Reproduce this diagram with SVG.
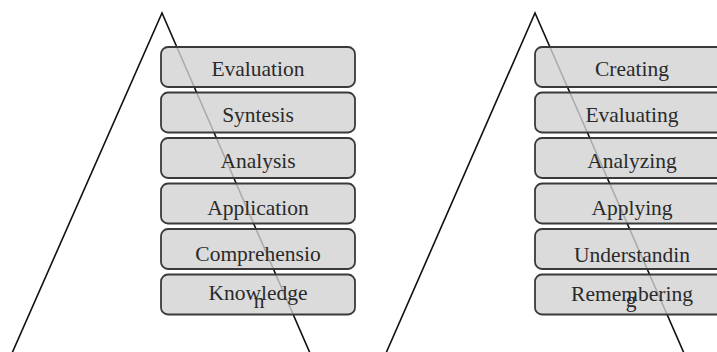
<svg xmlns="http://www.w3.org/2000/svg" width="717" height="352" viewBox="0 0 717 352">
<style>
.tri{fill:none;stroke:#111;stroke-width:1.6;stroke-linejoin:miter}
.box{fill:#d2d2d2;fill-opacity:0.8;stroke:#3a3a3a;stroke-width:1.8}
.lbl{font-family:"Liberation Serif","Times New Roman",serif;font-size:21.5px;fill:#2a2a2a;text-anchor:middle}
</style>
<rect width="717" height="352" fill="#ffffff"/>
<g id="connectors">
<polyline class="tri" points="9,360 162,13 313,360"/>
<polyline class="tri" points="383,360 535,13 687,360"/>
</g>
<g id="left-pyramid">
<g id="evaluation"><rect class="box" x="161" y="47" width="194" height="40" rx="7"/><text class="lbl" x="258" y="76">Evaluation</text></g>
<g id="syntesis"><rect class="box" x="161" y="92.5" width="194" height="40" rx="7"/><text class="lbl" x="258" y="122">Syntesis</text></g>
<g id="analysis"><rect class="box" x="161" y="138" width="194" height="40" rx="7"/><text class="lbl" x="258" y="168">Analysis</text></g>
<g id="application"><rect class="box" x="161" y="183.5" width="194" height="40" rx="7"/><text class="lbl" x="258" y="215">Application</text></g>
<g id="comprehension"><rect class="box" x="161" y="229" width="194" height="40" rx="7"/><text class="lbl" x="258" y="261">Comprehensio</text></g>
<g id="knowledge"><rect class="box" x="161" y="274.5" width="194" height="40" rx="7"/><text class="lbl" x="258" y="300">Knowledge</text></g>
<text class="lbl" x="259" y="308">n</text>
</g>
<g id="right-pyramid">
<g id="creating"><rect class="box" x="535" y="47" width="194" height="40" rx="7"/><text class="lbl" x="632" y="76">Creating</text></g>
<g id="evaluating"><rect class="box" x="535" y="92.5" width="194" height="40" rx="7"/><text class="lbl" x="632" y="122">Evaluating</text></g>
<g id="analyzing"><rect class="box" x="535" y="138" width="194" height="40" rx="7"/><text class="lbl" x="632" y="168">Analyzing</text></g>
<g id="applying"><rect class="box" x="535" y="183.5" width="194" height="40" rx="7"/><text class="lbl" x="632" y="215">Applying</text></g>
<g id="understanding"><rect class="box" x="535" y="229" width="194" height="40" rx="7"/><text class="lbl" x="632" y="262">Understandin</text></g>
<g id="remembering"><rect class="box" x="535" y="274.5" width="194" height="40" rx="7"/><text class="lbl" x="632" y="301">Remembering</text></g>
<text class="lbl" x="631" y="307">g</text>
</g>
</svg>
